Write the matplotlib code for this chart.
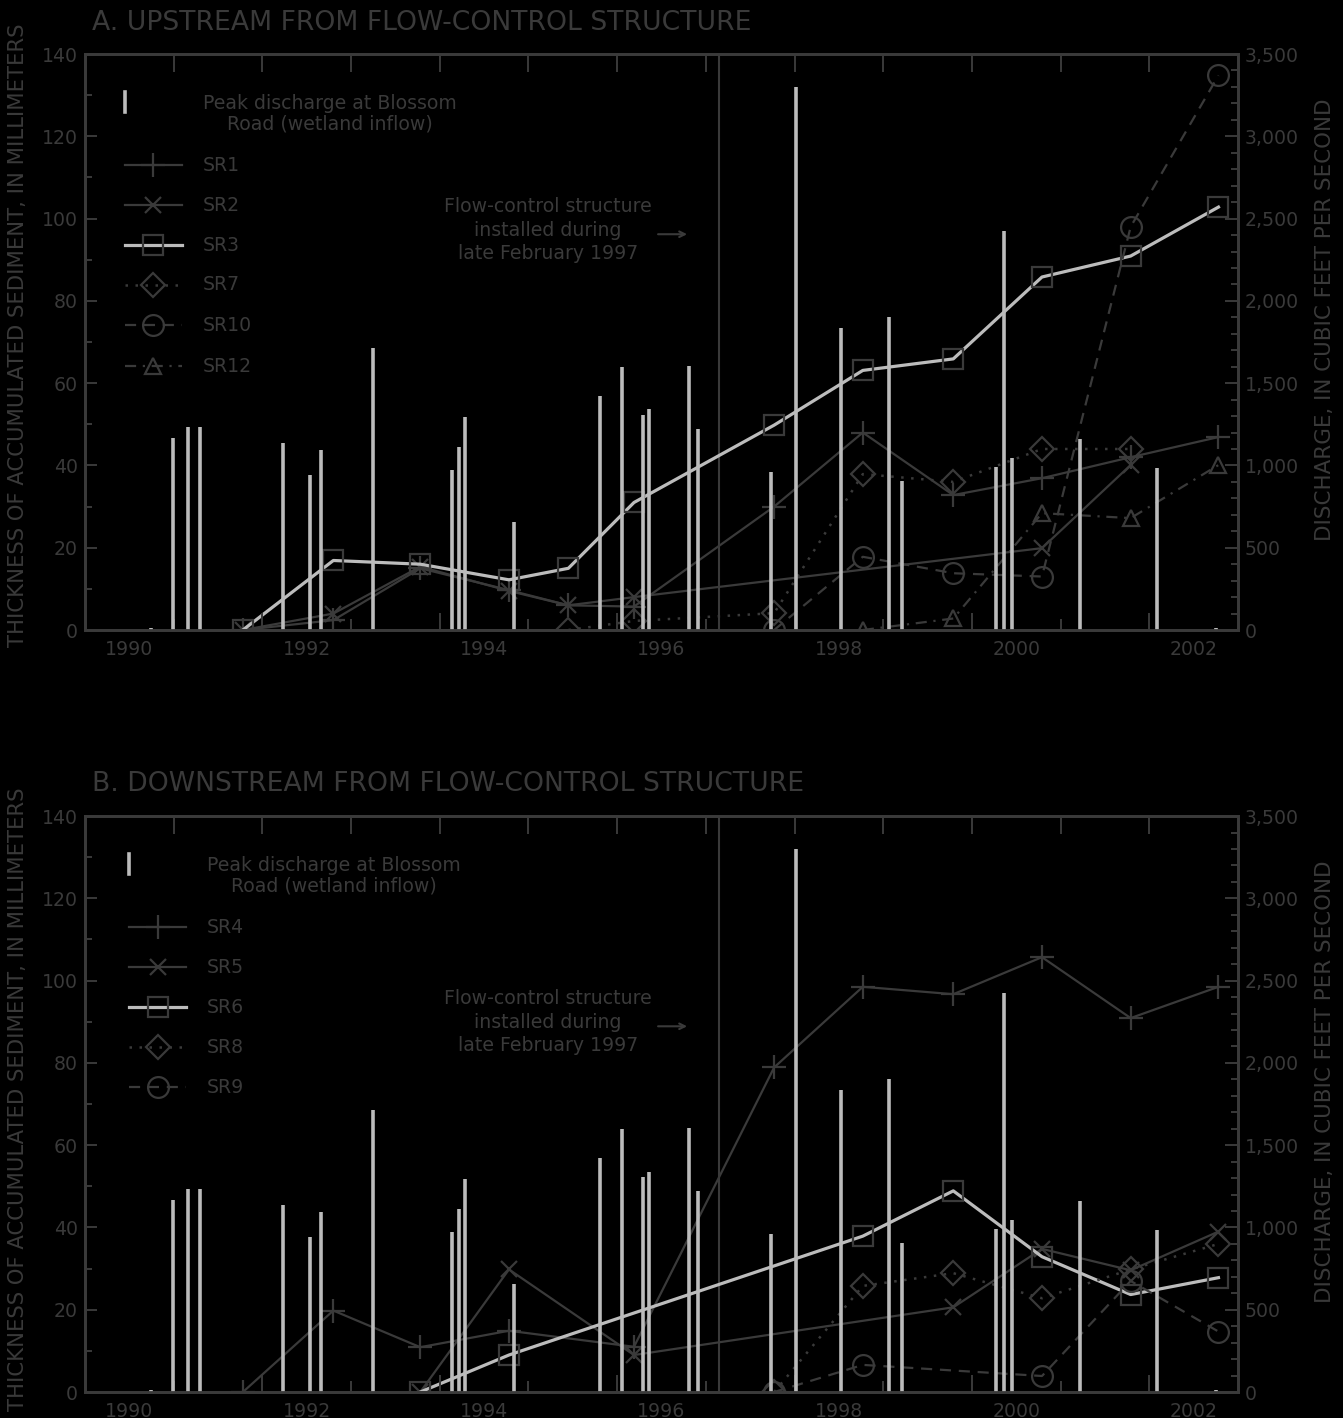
import matplotlib
matplotlib.use("Agg")
import matplotlib.pyplot as plt
from matplotlib.lines import Line2D

DARK = "#3a3a3a"
LIGHT = "#bcbcbc"
BG = "black"

# flow-control structure installed late February 1997
install_date = 1997.15

# peak discharge at Blossom Road (decimal year, cubic feet per second)
peak_dates = [1990.74, 1990.99, 1991.16, 1991.30, 1992.23, 1992.54, 1992.66, 1993.25,
              1994.14, 1994.22, 1994.28, 1994.84, 1995.81, 1996.05, 1996.29, 1996.36,
              1996.81, 1996.91, 1997.73, 1998.02, 1998.52, 1999.06, 1999.21, 2000.27,
              2000.36, 2000.45, 2001.22, 2002.09, 2002.75]
peak_cfs = [15, 1165, 1233, 1233, 1135, 943, 1095, 1713,
            973, 1115, 1293, 658, 1423, 1598, 1308, 1340,
            1605, 1223, 963, 3300, 1833, 1905, 905, 988,
            2425, 1043, 1158, 983, 15]

# upstream sites (decimal year, thickness mm)
sr1_x = [1991.78, 1992.80, 1993.78, 1994.78, 1995.45, 1996.19, 1997.77, 1998.77, 1999.79, 2000.79, 2001.79, 2002.78]
sr1_y = [0, 2.4, 15.0, 9.7, 6.0, 5.7, 30.0, 48.0, 32.8, 36.9, 42.0, 46.9]
sr2_x = [1991.78, 1992.80, 1993.78, 1994.78, 1995.45, 1996.19, 2000.79, 2001.79]
sr2_y = [0, 4.0, 15.4, 9.5, 6.0, 8.0, 19.9, 40.1]
sr3_x = [1991.78, 1992.80, 1993.78, 1994.78, 1995.45, 1996.19, 1997.77, 1998.77, 1999.79, 2000.79, 2001.79, 2002.78]
sr3_y = [0, 16.9, 16.0, 12.2, 15.0, 31.0, 49.8, 63.1, 65.9, 85.8, 90.9, 102.8]
sr7_x = [1995.45, 1996.19, 1997.77, 1998.77, 1999.79, 2000.79, 2001.79]
sr7_y = [0, 2.2, 4.1, 37.9, 36.0, 44.0, 44.0]
sr10_x = [1997.77, 1998.77, 1999.79, 2000.79, 2001.79, 2002.78]
sr10_y = [0, 17.8, 13.8, 13.0, 98.0, 134.8]
sr12_x = [1998.77, 1999.79, 2000.79, 2001.79, 2002.78]
sr12_y = [0, 2.8, 28.4, 27.2, 40.1]

# downstream sites
sr4_x = [1991.78, 1992.80, 1993.78, 1994.78, 1996.19, 1997.77, 1998.77, 1999.79, 2000.79, 2001.79, 2002.78]
sr4_y = [0, 19.8, 10.9, 14.9, 11.0, 78.9, 98.5, 96.7, 105.7, 90.9, 98.5]
sr5_x = [1993.78, 1994.78, 1996.19, 1999.79, 2000.79, 2001.79, 2002.78]
sr5_y = [0, 29.8, 9.0, 20.6, 34.8, 29.6, 39.0]
sr6_x = [1993.78, 1994.78, 1998.77, 1999.79, 2000.79, 2001.79, 2002.78]
sr6_y = [0, 9.0, 37.9, 48.9, 32.9, 23.7, 27.8]
sr8_x = [1997.77, 1998.77, 1999.79, 2000.79, 2001.79, 2002.78]
sr8_y = [0, 25.8, 28.9, 22.8, 29.8, 36.0]
sr9_x = [1997.77, 1998.77, 2000.79, 2001.79, 2002.78]
sr9_y = [0, 6.6, 3.9, 27.0, 14.7]

year_labels = [1990, 1992, 1994, 1996, 1998, 2000, 2002]

STYLES = {
    "plus": dict(color=DARK, lw=1.6, marker="+", ms=17, mew=1.6),
    "cross": dict(color=DARK, lw=1.6, marker="x", ms=12, mew=1.6),
    "square": dict(color=LIGHT, lw=2.3, marker="s", ms=14, mew=1.6, mec=DARK, mfc="none"),
    "diamond": dict(color=DARK, lw=1.8, marker="D", ms=12.5, mew=1.6, mec=DARK, mfc="none", dashes=(1, 3)),
    "circle": dict(color=DARK, lw=1.6, marker="o", ms=15, mew=1.6, mec=DARK, mfc="none", dashes=(5, 3.5)),
    "triangle": dict(color=DARK, lw=1.6, marker="^", ms=12, mew=1.6, mec=DARK, mfc="none", dashes=(5, 3, 1, 3)),
}

FS = 13.6

fig = plt.figure(figsize=(13.43, 14.18), dpi=100, facecolor=BG)


def draw_panel(rect, title, title_y, series, legend_x):
    ax = fig.add_axes(rect)
    ax.set_facecolor(BG)
    ax.set_xlim(1990, 2003)
    ax.set_ylim(0, 140)
    for sp in ax.spines.values():
        sp.set_color(DARK)
        sp.set_linewidth(2)

    ax.axvline(install_date, color=DARK, lw=1.5)
    for name, xs, ys, style in series:
        ax.plot(xs, ys, **STYLES[style])

    # left axis ticks
    ax.set_yticks(range(0, 141, 20))
    ax.set_yticks(range(10, 140, 20), minor=True)
    ax.tick_params(axis="y", which="major", direction="in", length=8.6, width=1.4,
                   color=DARK, labelcolor=DARK, labelsize=FS, pad=5)
    ax.tick_params(axis="y", which="minor", direction="in", length=5, width=1.4, color=DARK)
    # year labels centred in each labelled year
    ax.set_xticks([y + 0.5 for y in year_labels], [str(y) for y in year_labels])
    ax.tick_params(axis="x", length=0, labelcolor=DARK, labelsize=FS, pad=7)

    # discharge on right axis, drawn over the sediment lines
    ax2 = ax.twinx()
    ax2.set_ylim(0, 3500)
    ax2.vlines(peak_dates, 0, peak_cfs, color=LIGHT, lw=2.6)
    ax2.set_yticks(range(0, 3501, 500), [f"{v:,}" for v in range(0, 3501, 500)])
    ax2.set_yticks(range(100, 3500, 100), minor=True)
    ax2.tick_params(axis="y", which="major", direction="in", length=9.4, width=1.4,
                    color=DARK, labelcolor=DARK, labelsize=FS, pad=5)
    ax2.tick_params(axis="y", which="minor", direction="in", length=5, width=1.4, color=DARK)
    for sp in ax2.spines.values():
        sp.set_color(DARK)
        sp.set_linewidth(2)

    years = list(range(1991, 2003))
    bot = ax2.secondary_xaxis("bottom")
    bot.set_xticks([y for y in years if y % 2 == 0])
    bot.set_xticks([y for y in years if y % 2 == 1], minor=True)
    bot.tick_params(which="major", direction="in", length=12.2, width=1.4, color=DARK)
    bot.tick_params(which="minor", direction="in", length=8, width=1.4, color=DARK)
    bot.tick_params(which="both", labelbottom=False)
    bot.spines["bottom"].set_color(DARK)
    bot.spines["bottom"].set_linewidth(2)
    top = ax2.secondary_xaxis("top")
    top.set_xticks(years)
    top.tick_params(direction="in", length=13, width=1.4, color=DARK, labeltop=False)
    top.spines["top"].set_color(DARK)
    top.spines["top"].set_linewidth(2)

    # legend drawn by hand
    tr = ax.transAxes
    x0, x1 = legend_x, legend_x + 0.0494
    xm = (x0 + x1) / 2
    xt = legend_x + 0.0676
    ax.add_line(Line2D([x0, x0], [0.899, 0.934], transform=tr, color=LIGHT, lw=2.6))
    ax.text(xt, 0.897, "Peak discharge at Blossom\nRoad (wetland inflow)", transform=tr,
            ha="left", va="center", multialignment="center", color=DARK, fontsize=FS,
            linespacing=1.1)
    ys = [0.8073, 0.7378, 0.6684, 0.5990, 0.5295, 0.4583]
    for (name, xs, yv, style), yy in zip(series, ys):
        st = dict(STYLES[style])
        mk = {k: st.pop(k) for k in ("marker", "ms", "mew", "mec", "mfc") if k in st}
        ax.add_line(Line2D([x0, x1], [yy, yy], transform=tr, **st))
        ax.add_line(Line2D([xm], [yy], transform=tr, ls="none", color=st["color"], **mk))
        ax.text(xt, yy, name, transform=tr, ha="left", va="center", color=DARK, fontsize=FS)

    fig.text(rect[0] + 0.005, title_y, title, color=DARK, fontsize=19.2, va="baseline")
    return ax


def annotate(ax, y):
    ax.text(1995.22, y, "Flow-control structure\ninstalled during\nlate February 1997",
            ha="center", va="center", color=DARK, fontsize=FS, linespacing=1.3)
    ax.annotate("", xy=(1996.82, y - 1), xytext=(1996.43, y - 1),
                arrowprops=dict(arrowstyle="->", color=DARK, lw=1.5))


upstream = [("SR1", sr1_x, sr1_y, "plus"), ("SR2", sr2_x, sr2_y, "cross"),
            ("SR3", sr3_x, sr3_y, "square"), ("SR7", sr7_x, sr7_y, "diamond"),
            ("SR10", sr10_x, sr10_y, "circle"), ("SR12", sr12_x, sr12_y, "triangle")]
downstream = [("SR4", sr4_x, sr4_y, "plus"), ("SR5", sr5_x, sr5_y, "cross"),
              ("SR6", sr6_x, sr6_y, "square"), ("SR8", sr8_x, sr8_y, "diamond"),
              ("SR9", sr9_x, sr9_y, "circle")]

axA = draw_panel([0.0633, 0.5557, 0.8585, 0.4062], "A. UPSTREAM FROM FLOW-CONTROL STRUCTURE",
                 1 - 30 / 1418, upstream, 0.0347)
annotate(axA, 97.2)
axB = draw_panel([0.0633, 0.0183, 0.8585, 0.4062], "B. DOWNSTREAM FROM FLOW-CONTROL STRUCTURE",
                 1 - 791 / 1418, downstream, 0.0382)
annotate(axB, 89.9)

ylab = "THICKNESS OF ACCUMULATED SEDIMENT, IN MILLIMETERS"
rlab = "DISCHARGE, IN CUBIC FEET PER SECOND"
fig.text(18 / 1343, 1 - 335 / 1418, ylab, rotation=90, ha="center", va="center", color=DARK, fontsize=15.2)
fig.text(18 / 1343, 1 - 1099 / 1418, ylab, rotation=90, ha="center", va="center", color=DARK, fontsize=15.2)
fig.text(1325 / 1343, 1 - 320 / 1418, rlab, rotation=90, ha="center", va="center", color=DARK, fontsize=15.4)
fig.text(1325 / 1343, 1 - 1082 / 1418, rlab, rotation=90, ha="center", va="center", color=DARK, fontsize=15.4)

fig.savefig("out.png", dpi=100, facecolor=BG)
